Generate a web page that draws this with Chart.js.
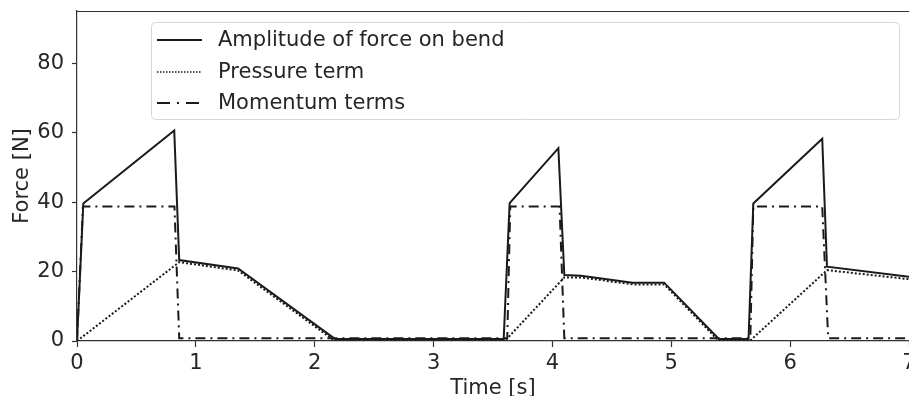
<!DOCTYPE html>
<html>
<head>
<meta charset="utf-8">
<script src="https://cdn.jsdelivr.net/npm/chart.js@4/dist/chart.umd.min.js"></script>
<style>
  html, body { margin: 0; padding: 0; background: #fff; }
  #wrap { width: 909px; height: 396px; }
</style>
</head>
<body>
<div id="wrap"><canvas id="chartCanvas"></canvas></div>
<script>
// 數據 (時間 s, 力 N)
const ampTime = [0, 0.053, 0.818, 0.86, 1.355, 2.17, 3.59, 3.64, 4.05, 4.10, 4.24, 4.675, 4.94, 5.40, 5.65, 5.69, 6.27, 6.31, 7.0];
const ampForce = [0, 39.6, 60.6, 23.3, 20.9, 0.6, 0.6, 39.7, 55.5, 19.0, 18.8, 16.8, 16.8, 0.6, 0.6, 39.6, 58.2, 21.4, 18.5];

const presTime = [0, 0.86, 1.355, 2.17, 3.6, 4.10, 4.24, 4.675, 4.94, 5.40, 5.66, 6.31, 7.0];
const presForce = [0, 22.7, 20.3, 0, 0, 18.3, 18.3, 16.3, 16.3, 0, 0, 20.4, 17.8];

const momTime = [0, 0.05, 0.82, 0.86, 3.62, 3.645, 4.06, 4.10, 5.665, 5.69, 6.27, 6.32, 7.0];
const momForce = [0, 38.7, 38.7, 0.8, 0.8, 38.7, 38.7, 0.8, 0.8, 38.7, 38.7, 0.8, 0.8];

const xTicks = [0, 1, 2, 3, 4, 5, 6, 7];
const yTicks = [0, 20, 40, 60, 80];
const seriesLabels = ["Amplitude of force on bend", "Pressure term", "Momentum terms"];

const toPoints = (xs, ys) => xs.map((x, i) => ({ x: x, y: ys[i] }));

const ink = "#1a1a1a";
const textColor = "#262626";
const fontFamily = "'DejaVu Sans', sans-serif";
const fontSize = 21;

// 自訂圖例 (帶邊框)
const boxLegend = {
	id: "boxLegend",
	afterDraw(chart) {
		const c = chart.ctx;
		c.save();
		const x = 151.5, y = 22.5, w = 748, h = 97;
		c.beginPath();
		c.roundRect(x, y, w, h, 4);
		c.fillStyle = "rgba(255,255,255,0.8)";
		c.fill();
		c.strokeStyle = "#d6d6d6";
		c.lineWidth = 1;
		c.stroke();
		const rows = [40, 72, 103];
		chart.data.datasets.forEach((ds, i) => {
			c.beginPath();
			c.setLineDash(ds.legendDash || []);
			c.lineWidth = ds.legendWidth || ds.borderWidth;
			c.strokeStyle = ds.borderColor;
			c.moveTo(157, rows[i]);
			c.lineTo(202, rows[i]);
			c.stroke();
			c.setLineDash([]);
			c.fillStyle = textColor;
			c.font = fontSize + "px " + fontFamily;
			c.textBaseline = "middle";
			c.fillText(ds.label, 218, rows[i] + 1);
		});
		c.restore();
	},
	beforeDatasetsDraw(chart) {
		// 上邊框
		const a = chart.chartArea;
		const c = chart.ctx;
		c.save();
		c.strokeStyle = "#333";
		c.lineWidth = 1.2;
		c.beginPath();
		c.moveTo(a.left, a.top + 0.5);
		c.lineTo(a.right, a.top + 0.5);
		c.stroke();
		c.restore();
	},
};

const ctx = document.getElementById("chartCanvas").getContext("2d");
const chart = new Chart(ctx, {
	type: "line",
	data: {
		datasets: [
			{
				label: seriesLabels[0],
				data: toPoints(ampTime, ampForce),
				borderColor: ink,
				borderWidth: 2,
			},
			{
				label: seriesLabels[1],
				data: toPoints(presTime, presForce),
				borderColor: ink,
				borderWidth: 2,
				borderDash: [2, 2],
				legendDash: [1.5, 1.5],
				legendWidth: 1.5,
			},
			{
				label: seriesLabels[2],
				data: toPoints(momTime, momForce),
				borderColor: ink,
				borderWidth: 2,
				borderDash: [10, 5, 2, 5],
				legendDash: [13, 7, 2, 7],
			},
		],
	},
	options: {
		responsive: true,
		maintainAspectRatio: false,
		animation: false,
		elements: {
			point: { radius: 0 },
			line: { tension: 0, borderCapStyle: "butt", borderJoinStyle: "miter" },
		},
		layout: { padding: { top: 11, right: 0, left: 0, bottom: 0 } },
		scales: {
			x: {
				type: "linear",
				min: 0,
				max: 7,
				afterBuildTicks: (s) => { s.ticks = xTicks.map((v) => ({ value: v })); },
				afterFit: (s) => { s.height = 55; s.paddingLeft = 0; s.paddingRight = 0; },
				grid: { drawOnChartArea: false, tickLength: 6, tickColor: "#333", tickWidth: 1.2 },
				border: { display: true, color: "#333", width: 1.2 },
				ticks: { color: textColor, padding: 4, maxRotation: 0, font: { family: fontFamily, size: fontSize } },
				title: {
					display: true,
					text: "Time [s]",
					color: textColor,
					padding: { top: 0, bottom: -5 },
					font: { family: fontFamily, size: fontSize },
				},
			},
			y: {
				min: 0,
				max: 95,
				afterBuildTicks: (s) => { s.ticks = yTicks.map((v) => ({ value: v })); },
				afterFit: (s) => { s.width = 77; s.paddingTop = 0; s.paddingBottom = 0; },
				grid: { drawOnChartArea: false, tickLength: 5, tickColor: "#333", tickWidth: 1.2 },
				border: { display: true, color: "#333", width: 1.2 },
				ticks: { color: textColor, padding: 8, font: { family: fontFamily, size: fontSize } },
				title: {
					display: true,
					text: "Force [N]",
					color: textColor,
					padding: { top: 10, bottom: 0 },
					font: { family: fontFamily, size: fontSize },
				},
			},
		},
		plugins: {
			legend: { display: false },
			tooltip: { enabled: false },
		},
	},
	plugins: [boxLegend],
});
</script>
</body>
</html>
